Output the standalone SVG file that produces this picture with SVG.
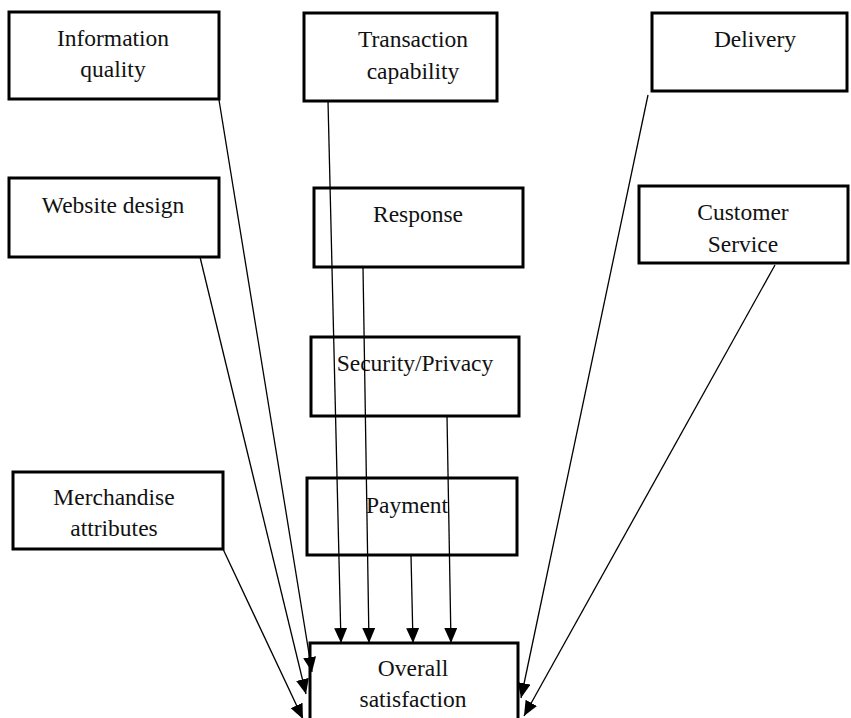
<svg xmlns="http://www.w3.org/2000/svg" width="851" height="718" viewBox="0 0 851 718">
<defs>
<style>
.box{fill:none;stroke:#000;stroke-width:3}
.lbl{font-family:"Liberation Serif","Times New Roman",serif;font-size:23.5px;fill:#111;text-anchor:middle}
.conn line{stroke:#000;stroke-width:1.3;marker-end:url(#arr)}
</style>
<marker id="arr" markerUnits="userSpaceOnUse" markerWidth="16" markerHeight="14" refX="15" refY="6.5" orient="auto">
<path d="M0,0 L15,6.5 L0,13 z" fill="#000"/>
</marker>
</defs>
<rect width="851" height="718" fill="#fff"/>
<g id="info-quality"><rect class="box" x="9" y="12" width="210" height="87"/><text class="lbl" x="113" y="46">Information</text><text class="lbl" x="113" y="77">quality</text></g>
<g id="transaction"><rect class="box" x="304" y="13" width="193" height="88"/><text class="lbl" x="413" y="47">Transaction</text><text class="lbl" x="413" y="79">capability</text></g>
<g id="delivery"><rect class="box" x="652" y="13" width="195" height="78"/><text class="lbl" x="755" y="47">Delivery</text></g>
<g id="website"><rect class="box" x="9" y="178" width="210" height="79"/><text class="lbl" x="113" y="213">Website design</text></g>
<g id="response"><rect class="box" x="314" y="188" width="209" height="79"/><text class="lbl" x="418" y="222">Response</text></g>
<g id="security"><rect class="box" x="311" y="337" width="208" height="79"/><text class="lbl" x="415" y="371">Security/Privacy</text></g>
<g id="customer"><rect class="box" x="639" y="186" width="209" height="77"/><text class="lbl" x="743" y="220">Customer</text><text class="lbl" x="743" y="252">Service</text></g>
<g id="merchandise"><rect class="box" x="13" y="472" width="210" height="77"/><text class="lbl" x="114" y="505">Merchandise</text><text class="lbl" x="114" y="536">attributes</text></g>
<g id="payment"><rect class="box" x="307" y="478" width="210" height="77"/><text class="lbl" x="407" y="513">Payment</text></g>
<g id="overall"><rect class="box" x="310" y="643" width="208" height="90"/><text class="lbl" x="413" y="676">Overall</text><text class="lbl" x="413" y="707">satisfaction</text></g>
<g id="connectors" class="conn">
<line x1="219" y1="100" x2="312" y2="672"/>
<line x1="200" y1="257" x2="306" y2="694"/>
<line x1="223" y1="549" x2="303" y2="719"/>
<line x1="328" y1="101" x2="341" y2="643"/>
<line x1="363" y1="267" x2="369" y2="643"/>
<line x1="447" y1="416" x2="451" y2="643"/>
<line x1="411" y1="555" x2="413" y2="643"/>
<line x1="648" y1="95" x2="521" y2="698"/>
<line x1="775" y1="265" x2="524" y2="716"/>
</g>
</svg>
